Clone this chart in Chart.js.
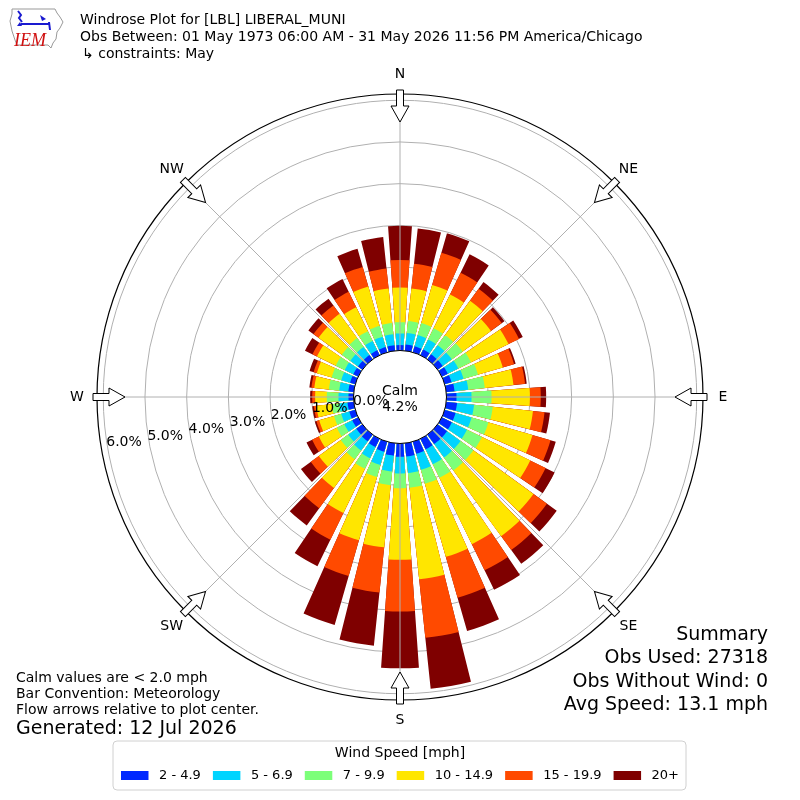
<!DOCTYPE html>
<html>
<head>
<meta charset="utf-8">
<title>Windrose LBL</title>
<script src="https://cdn.jsdelivr.net/npm/chart.js@4.4.1/dist/chart.umd.min.js"></script>
<style>
  html, body { margin: 0; padding: 0; background: #fff; }
  #rose { display: block; }
</style>
</head>
<body>
<canvas id="rose" width="800" height="800"></canvas>
<script>
var ctx = document.getElementById("rose").getContext("2d");

// direction bins (deg, meteorological) and speed classes
var directions = [0, 10, 20, 30, 40, 50, 60, 70, 80, 90, 100, 110, 120, 130, 140, 150, 160, 170,
                  180, 190, 200, 210, 220, 230, 240, 250, 260, 270, 280, 290, 300, 310, 320, 330, 340, 350];
var speedBins = ["2 - 4.9", "5 - 6.9", "7 - 9.9", "10 - 14.9", "15 - 19.9", "20+"];
var binColors = ["#0028ff", "#00d4ff", "#7cff79", "#ffe600", "#ff4a00", "#7f0000"];

// % of obs in each direction for each speed class
var pct2to5   = [0.13, 0.15, 0.15, 0.15, 0.15, 0.15, 0.16, 0.17, 0.20, 0.24, 0.26, 0.27, 0.27, 0.28, 0.28, 0.28, 0.30, 0.32,
                 0.32, 0.30, 0.25, 0.22, 0.20, 0.18, 0.16, 0.15, 0.15, 0.12, 0.13, 0.13, 0.13, 0.13, 0.13, 0.13, 0.13, 0.13];
var pct5to7   = [0.28, 0.28, 0.28, 0.27, 0.27, 0.27, 0.28, 0.30, 0.33, 0.36, 0.41, 0.40, 0.40, 0.40, 0.40, 0.40, 0.40, 0.40,
                 0.40, 0.38, 0.33, 0.30, 0.27, 0.24, 0.21, 0.20, 0.20, 0.24, 0.22, 0.22, 0.23, 0.23, 0.24, 0.25, 0.26, 0.27];
var pct7to10  = [0.27, 0.29, 0.30, 0.30, 0.30, 0.32, 0.34, 0.36, 0.40, 0.48, 0.45, 0.42, 0.40, 0.38, 0.38, 0.36, 0.35, 0.35,
                 0.35, 0.33, 0.30, 0.28, 0.26, 0.22, 0.20, 0.18, 0.18, 0.28, 0.25, 0.24, 0.24, 0.25, 0.26, 0.26, 0.27, 0.27];
var pct10to15 = [0.83, 0.78, 0.95, 0.90, 1.02, 0.84, 1.00, 0.62, 0.69, 0.92, 0.97, 1.10, 1.29, 1.78, 1.95, 1.77, 1.82, 2.21,
                 1.72, 1.50, 1.58, 1.18, 0.85, 0.65, 0.48, 0.37, 0.37, 0.28, 0.35, 0.37, 0.50, 0.69, 0.72, 0.64, 0.98, 0.83];
var pct15to20 = [0.66, 0.60, 0.80, 0.58, 0.35, 0.32, 0.28, 0.28, 0.28, 0.26, 0.28, 0.45, 0.41, 0.40, 0.41, 0.70, 1.02, 1.41,
                 1.24, 1.09, 0.89, 0.71, 0.60, 0.24, 0.18, 0.07, 0.06, 0.07, 0.07, 0.08, 0.12, 0.15, 0.25, 0.41, 0.49, 0.48];
var pct20plus = [0.82, 0.85, 0.49, 0.49, 0.20, 0.08, 0.10, 0.04, 0.04, 0.13, 0.13, 0.13, 0.24, 0.29, 0.41, 0.52, 0.83, 1.23,
                 1.36, 1.28, 1.22, 0.71, 0.51, 0.29, 0.15, 0.04, 0.04, 0.05, 0.05, 0.10, 0.20, 0.15, 0.20, 0.34, 0.45, 0.76];

var ringTicks = [0, 1, 2, 3, 4, 5, 6];
var compassLabels = ["N", "NE", "E", "SE", "S", "SW", "W", "NW"];
var calmPct = 4.2;
var titleLines = ["Windrose Plot for [LBL] LIBERAL_MUNI",
                  "Obs Between: 01 May 1973 06:00 AM - 31 May 2026 11:56 PM America/Chicago",
                  "\u21b3 constraints: May"];
var summaryLines = ["Summary", "Obs Used: 27318", "Obs Without Wind: 0", "Avg Speed: 13.1 mph"];
var noteLines = ["Calm values are < 2.0 mph", "Bar Convention: Meteorology", "Flow arrows relative to plot center."];
var generatedText = "Generated: 12 Jul 2026";

// radial axis: the calm hole is the part of the axis below 0
var rMin = -1.115, rMax = 6.15;
var BAR = 8, GAP = 2; // degrees per bar / white gap
var FONT = '"DejaVu Sans", "Liberation Sans", sans-serif';

// stacked look: cumulative values per class, each bar followed by a gap slot
var binSeries = [pct2to5, pct5to7, pct7to10, pct10to15, pct15to20, pct20plus];
var labels = [], slotAngles = [];
directions.forEach(function (d) {
  labels.push(d + "\u00b0"); labels.push("");
  slotAngles.push(BAR); slotAngles.push(GAP);
});
var running = directions.map(function () { return 0; });
var datasets = binSeries.map(function (vals, k) {
  var data = [];
  vals.forEach(function (v, i) {
    running[i] += v;
    data.push(+running[i].toFixed(3));
    data.push(0);
  });
  return {
    label: speedBins[k],
    data: data,
    angle: slotAngles,
    backgroundColor: data.map(function (v, i) { return i % 2 ? "rgba(0,0,0,0)" : binColors[k]; }),
    borderWidth: 0
  };
});

function polar(scale, deg, r) {
  var a = (deg - 90) * Math.PI / 180;
  return { x: scale.xCenter + r * Math.cos(a), y: scale.yCenter + r * Math.sin(a) };
}

function drawArrow(c, scale, deg) {
  var R = scale.drawingArea;
  c.save();
  c.translate(scale.xCenter, scale.yCenter);
  c.rotate(deg * Math.PI / 180);
  c.beginPath();
  c.moveTo(-3.5, -R - 4);
  c.lineTo(3.5, -R - 4);
  c.lineTo(3.5, -R + 12);
  c.lineTo(9, -R + 12);
  c.lineTo(0, -R + 28);
  c.lineTo(-9, -R + 12);
  c.lineTo(-3.5, -R + 12);
  c.closePath();
  c.fillStyle = "#fff";
  c.fill();
  c.lineWidth = 1;
  c.strokeStyle = "#000";
  c.stroke();
  c.restore();
}

function drawLogo(c) {
  c.save();
  c.strokeStyle = "#999";
  c.lineWidth = 1;
  c.beginPath();
  var pts = [[12, 9], [55, 9], [57, 13], [60, 17], [63, 22], [60, 28], [57, 32], [56, 39], [53, 43],
             [51, 48], [48, 45], [17, 45], [15, 40], [12, 31], [10, 21], [12, 14]];
  pts.forEach(function (p, i) { i ? c.lineTo(p[0], p[1]) : c.moveTo(p[0], p[1]); });
  c.closePath();
  c.stroke();
  c.strokeStyle = "#1a1ad0";
  c.fillStyle = "#1a1ad0";
  c.lineWidth = 2;
  c.beginPath();
  c.moveTo(18, 11); c.lineTo(21, 15); c.lineTo(19, 18); c.lineTo(22, 22);
  c.moveTo(21, 24); c.lineTo(50, 24);
  c.moveTo(49, 22); c.lineTo(50, 30);
  c.stroke();
  c.beginPath();
  c.moveTo(40, 15); c.lineTo(46, 19); c.lineTo(42, 21); c.closePath(); c.fill();
  c.beginPath();
  c.moveTo(17, 26); c.lineTo(20, 22); c.lineTo(22, 26); c.closePath(); c.fill();
  c.fillStyle = "#d01010";
  c.font = 'italic 18px "Liberation Serif", serif';
  c.textBaseline = "alphabetic";
  c.textAlign = "left";
  c.fillText("IEM", 14, 46);
  c.restore();
}

var windroseDecor = {
  id: "windroseDecor",
  afterDatasetsDraw: function (chart) {
    var s = chart.scales.r, c = chart.ctx;
    c.save();
    c.beginPath();
    c.arc(s.xCenter, s.yCenter, s.getDistanceFromCenterForValue(0), 0, Math.PI * 2);
    c.fillStyle = "#fff";
    c.fill();
    c.restore();
  },
  afterDraw: function (chart) {
    var s = chart.scales.r, c = chart.ctx;
    var r0 = s.getDistanceFromCenterForValue(0);
    var R = s.getDistanceFromCenterForValue(s.max);
    c.save();

    // spokes every 45 deg, from calm edge to outer edge
    c.strokeStyle = "#b0b0b0";
    c.lineWidth = 1;
    compassLabels.forEach(function (lab, i) {
      var a = polar(s, i * 45, r0), b = polar(s, i * 45, R);
      c.beginPath(); c.moveTo(a.x, a.y); c.lineTo(b.x, b.y); c.stroke();
    });

    // calm circle + outer frame
    c.strokeStyle = "#000";
    c.beginPath(); c.arc(s.xCenter, s.yCenter, r0, 0, Math.PI * 2); c.stroke();
    c.lineWidth = 1.2;
    c.beginPath(); c.arc(s.xCenter, s.yCenter, R, 0, Math.PI * 2); c.stroke();

    // ring labels
    c.fillStyle = "#000";
    c.font = "14px " + FONT;
    c.textAlign = "center";
    c.textBaseline = "middle";
    ringTicks.forEach(function (v) {
      var p = polar(s, 260.6, s.getDistanceFromCenterForValue(v) - 17);
      c.fillText(v.toFixed(1) + "%", p.x, p.y);
    });

    // arrows + compass labels
    compassLabels.forEach(function (lab, i) {
      drawArrow(c, s, i * 45);
      var p = polar(s, i * 45, R + 20);
      c.fillStyle = "#000";
      c.fillText(lab, p.x, p.y + 0.5);
    });

    c.fillText("Calm", s.xCenter, s.yCenter - 6);
    c.fillText(calmPct.toFixed(1) + "%", s.xCenter, s.yCenter + 10);

    // header
    drawLogo(c);
    c.textAlign = "left";
    c.font = "14px " + FONT;
    c.fillStyle = "#000";
    c.fillText(titleLines[0], 80, 20);
    c.fillText(titleLines[1], 80, 37);
    c.fillText(titleLines[2], 82, 54);

    // notes bottom-left
    noteLines.forEach(function (t, i) { c.fillText(t, 16, 678 + i * 16); });
    c.font = "19px " + FONT;
    c.fillText(generatedText, 16, 729);

    // summary bottom-right
    c.textAlign = "right";
    summaryLines.forEach(function (t, i) { c.fillText(t, 768, 635 + i * 23.5); });

    // legend box
    var bx = 113, by = 741, bw = 573, bh = 49;
    c.beginPath();
    c.roundRect(bx, by, bw, bh, 4);
    c.fillStyle = "rgba(255,255,255,0.8)";
    c.fill();
    c.strokeStyle = "#d0d0d0";
    c.lineWidth = 1;
    c.stroke();
    c.fillStyle = "#000";
    c.textAlign = "center";
    c.font = "14px " + FONT;
    c.fillText("Wind Speed [mph]", 400, 753);
    c.textAlign = "left";
    c.font = "13px " + FONT;
    var handle = 27.5, pad = 10.5, colGap = 12;
    var total = 0;
    speedBins.forEach(function (t) { total += handle + pad + c.measureText(t).width; });
    total += colGap * (speedBins.length - 1);
    var x = 400 - total / 2;
    speedBins.forEach(function (t, k) {
      c.fillStyle = binColors[k];
      c.fillRect(x, 771, handle, 9);
      c.fillStyle = "#000";
      c.fillText(t, x + handle + pad, 776);
      x += handle + pad + c.measureText(t).width + colGap;
    });

    c.restore();
  }
};

var rose = new Chart(ctx, {
  type: "polarArea",
  data: { labels: labels, datasets: datasets },
  options: {
    responsive: false,
    devicePixelRatio: 1,
    animation: false,
    layout: { padding: { left: 97, right: 97, top: 94, bottom: 100 } },
    plugins: {
      legend: { display: false },
      tooltip: { enabled: false }
    },
    scales: {
      r: {
        min: rMin,
        max: rMax,
        bounds: "data",
        startAngle: -BAR / 2,
        z: 1,
        ticks: { display: false },
        afterBuildTicks: function (scale) {
          scale.ticks = ringTicks.map(function (v) { return { value: v }; });
        },
        grid: { circular: true, color: "#b0b0b0", lineWidth: 1 },
        angleLines: { display: false },
        pointLabels: { display: false }
      }
    }
  },
  plugins: [windroseDecor]
});
</script>
</body>
</html>
